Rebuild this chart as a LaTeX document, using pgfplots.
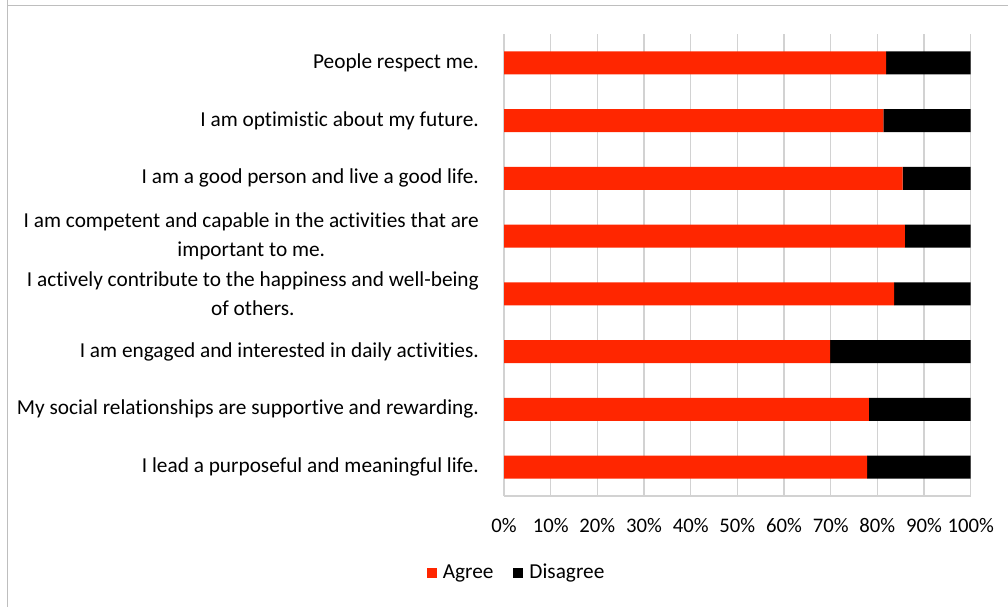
\documentclass[border=0pt]{standalone}
\usepackage{pgfplots}
\pgfplotsset{compat=1.18}
\usepackage{fontspec}
\setmainfont{Carlito}[Ligatures=NoCommon]
\definecolor{agreered}{RGB}{255,38,0}
\definecolor{gridgray}{RGB}{210,210,210}
\definecolor{framegray}{RGB}{190,190,190}
\begin{document}
\fontsize{21.3}{29}\selectfont
\begin{tikzpicture}[x=1pt,y=1pt]
\useasboundingbox (0,0) rectangle (1008,606);
\draw[framegray, line width=1pt] (7,700) -- (7,600) -- (1100,600);
\draw[framegray, line width=1pt] (7,600) -- (7,-50);
\begin{axis}[
  at={(504pt,110pt)}, anchor=south west,
  scale only axis, width=466.7pt, height=462pt,
  xbar stacked, bar width=23pt,
  xmin=0, xmax=100, ymin=0.5, ymax=8.5,
  ytick={1,...,8},
  yticklabels={
    I lead a purposeful and meaningful life.,
    My social relationships are supportive and rewarding.,
    I am engaged and interested in daily activities.,
    {I actively contribute to the happiness and well-being\\of others.},
    {I am competent and capable in the activities that are\\important to me.},
    I am a good person and live a good life.,
    I am optimistic about my future.,
    People respect me.},
  yticklabel style={anchor=east, align=center, inner sep=0pt, xshift=-25pt, font=\fontsize{21.3}{29}\selectfont},
  xtick={0,10,...,100},
  xticklabels={0\%,10\%,20\%,30\%,40\%,50\%,60\%,70\%,80\%,90\%,100\%},
  xticklabel style={anchor=center, inner sep=0pt, yshift=-30pt, font=\fontsize{20.7}{24}\selectfont},
  /pgf/number format/assume math mode=true,
  major tick length=0pt,
  xmajorgrids, grid style={gridgray, line width=1.3pt},
  axis lines*=left,
  axis line style={gridgray, line width=1.3pt, -},
  legend columns=2,
  legend style={at={(0.028,-0.1667)}, anchor=center, draw=none, fill=none,
    font=\fontsize{21.3}{24}\selectfont,
    nodes={inner sep=3pt},
    /tikz/every odd column/.append style={column sep=3pt},
    /tikz/every even column/.append style={column sep=17pt}},
  legend image code/.code={\fill[#1] (0pt,-5pt) rectangle (10pt,5pt);},
]
\addplot[fill=agreered, draw=none] coordinates {
  (77.8,1) (78.2,2) (69.9,3) (83.6,4) (85.9,5) (85.4,6) (81.3,7) (81.9,8)};
\addplot[fill=black, draw=none] coordinates {
  (22.2,1) (21.8,2) (30.1,3) (16.4,4) (14.1,5) (14.6,6) (18.7,7) (18.1,8)};
\legend{Agree,Disagree}
\end{axis}
\end{tikzpicture}
\end{document}
